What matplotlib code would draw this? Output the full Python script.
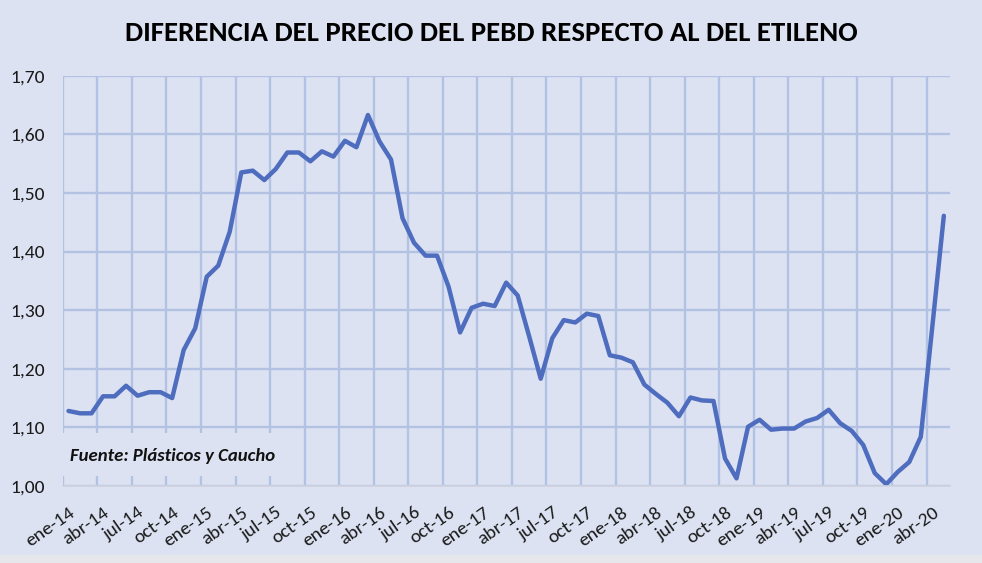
import matplotlib
matplotlib.use("Agg")
import matplotlib.pyplot as plt
from matplotlib.patches import Rectangle
import numpy as np

title = "DIFERENCIA DEL PRECIO DEL PEBD RESPECTO AL DEL ETILENO"
source = "Fuente: Plásticos y Caucho"

months = ["ene", "feb", "mar", "abr", "may", "jun", "jul", "ago", "sep", "oct", "nov", "dic"]
years = ["14", "15", "16", "17", "18", "19", "20"]
categories = [f"{m}-{y}" for y in years for m in months][:77]

values = [
    1.128, 1.124, 1.124, 1.153, 1.153, 1.171, 1.154, 1.160, 1.160, 1.150, 1.232, 1.269,
    1.357, 1.376, 1.434, 1.535, 1.538, 1.522, 1.541, 1.569, 1.569, 1.554, 1.571, 1.562,
    1.589, 1.578, 1.633, 1.588, 1.557, 1.457, 1.415, 1.393, 1.393, 1.340, 1.262, 1.304,
    1.311, 1.307, 1.347, 1.325, 1.255, 1.183, 1.252, 1.283, 1.279, 1.294, 1.290, 1.223,
    1.219, 1.211, 1.173, 1.157, 1.142, 1.119, 1.151, 1.146, 1.145, 1.047, 1.013, 1.101,
    1.113, 1.096, 1.098, 1.098, 1.110, 1.116, 1.130, 1.107, 1.094, 1.070, 1.022, 1.003,
    1.024, 1.041, 1.084, 1.272, 1.461,
]

y_ticks = [1.00, 1.10, 1.20, 1.30, 1.40, 1.50, 1.60, 1.70]
y_labels = ["1,00", "1,10", "1,20", "1,30", "1,40", "1,50", "1,60", "1,70"]

BG = "#DCE2F2"
GRID = "#B3C1E3"
LINE = "#4F6DBE"

fams = ["Carlito", "Liberation Sans Narrow", "Open Sans", "DejaVu Sans"]
plt.rcParams["font.family"] = fams

fig = plt.figure(figsize=(9.82, 5.63), dpi=100, facecolor=BG)
ax = fig.add_axes([0.0639, 0.1368, 0.9031, 0.7287])
ax.set_facecolor(BG)

x = np.arange(len(values))
ax.set_xlim(-0.5, len(values) - 0.5)
ax.set_ylim(1.0, 1.7)

major_idx = list(range(0, len(values), 3))
ax.set_xticks(major_idx)
ax.set_xticklabels([categories[i] for i in major_idx], rotation=35, ha="right",
                   rotation_mode="anchor", fontsize=14, color="#1a1a1a")
ax.set_xticks([i - 0.5 for i in major_idx], minor=True)
ax.tick_params(axis="x", which="both", length=0, pad=13)
ax.set_yticks(y_ticks)
ax.set_yticklabels(y_labels, fontsize=14, color="#1a1a1a")
ax.tick_params(axis="y", length=0, pad=13)
ax.grid(which="minor", axis="x", color=GRID, linewidth=1.7, zorder=0)
ax.grid(which="major", axis="y", color=GRID, linewidth=1.7, zorder=0)
ax.grid(which="major", axis="x", visible=False)
ax.set_axisbelow(True)

for s in ["top", "right", "left"]:
    ax.spines[s].set_visible(False)
ax.spines["bottom"].set_color("#CDD2DD")
ax.spines["bottom"].set_linewidth(1.2)

ax.add_patch(Rectangle((-0.5, 1.017), 19.7, 0.074, facecolor=BG, edgecolor="none", zorder=1))
ax.text(0.1, 1.052, source, fontsize=13.5, fontweight="bold", fontstyle="italic",
        color="#111111", zorder=3, va="center", ha="left")

ax.plot(x, values, color=LINE, linewidth=3.2, solid_joinstyle="round",
        solid_capstyle="round", zorder=2)

fig.text(0.5, 0.941, title, fontsize=20.8, fontweight="bold", ha="center", va="center",
         color="#000000")

fig.add_artist(Rectangle((0, 0), 1, 8 / 563, transform=fig.transFigure,
                         facecolor="#E6E7EB", edgecolor="none"))

fig.savefig("out.png", dpi=100, facecolor=BG)
